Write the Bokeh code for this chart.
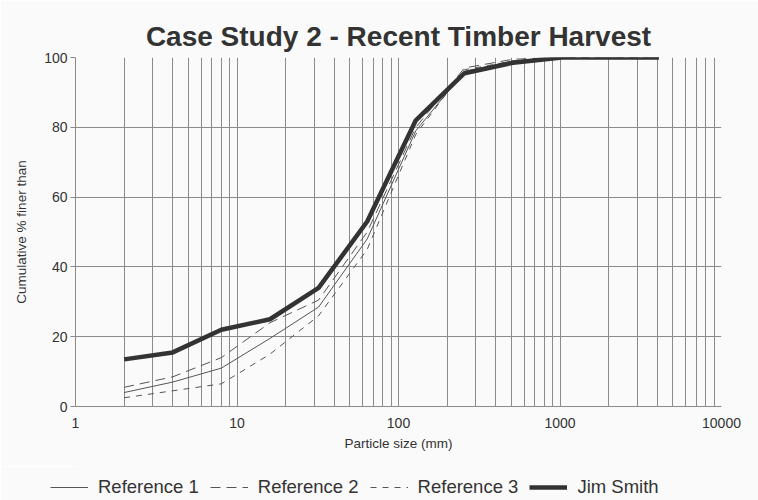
from bokeh.plotting import figure
from bokeh.models import FixedTicker, Legend, LegendItem
from bokeh.layouts import column
from bokeh.embed import file_html
from bokeh.resources import INLINE

# Particle sizes (mm)
sizes = [2, 4, 8, 16, 32, 64, 128, 256, 512, 1024, 4096]
ref1 = [4.0, 7.0, 11.0, 19.5, 28.5, 48, 79, 96, 99, 100, 100]
ref2 = [5.5, 8.5, 14.0, 24.0, 30.5, 50, 80, 97, 99.5, 100, 100]
ref3 = [2.5, 4.5, 6.5, 15.0, 26.0, 45, 78, 96.5, 99, 100, 100]
jim = [13.5, 15.5, 22.0, 25.0, 34.0, 53, 82, 95.5, 98.5, 100, 100]
series_names = ["Reference 1", "Reference 2", "Reference 3", "Jim Smith"]

major_x = [1, 10, 100, 1000, 10000]
minor_x = [m * d for d in [1, 10, 100, 1000] for m in range(2, 10)]
y_ticks = [0, 20, 40, 60, 80, 100]

FONT = "Liberation Sans"
TXT = "#333333"
GRID = "#8a8a8a"
BG = "#fafafa"

styles = [
    dict(line_color="#555555", line_width=1),
    dict(line_color="#555555", line_width=1, line_dash="10 6"),
    dict(line_color="#555555", line_width=1, line_dash="6 6"),
    dict(line_color="#333333", line_width=4.5),
]
series = [ref1, ref2, ref3, jim]

p = figure(
    x_axis_type="log", x_range=(1, 10000), y_range=(0, 100),
    output_backend="svg", toolbar_location=None,
    title="Case Study 2 - Recent Timber Harvest",
    min_border_left=75, min_border_right=37, min_border_top=57,
    min_border_bottom=60,
)
p.frame_width = 646
p.frame_height = 349
p.background_fill_color = BG
p.border_fill_color = BG
p.outline_line_color = None

p.title.align = "center"
p.title.vertical_align = "middle"
p.title.text_font = FONT
p.title.text_font_size = "28px"
p.title.text_font_style = "bold"
p.title.text_color = TXT

for ys, st in zip(series, styles):
    p.line(sizes, ys, **st)

p.xaxis.ticker = FixedTicker(ticks=major_x, minor_ticks=minor_x)
p.xaxis.major_label_overrides = {t: str(t) for t in major_x}
p.yaxis.ticker = FixedTicker(ticks=y_ticks)

p.xgrid.grid_line_color = GRID
p.xgrid.minor_grid_line_color = GRID
p.ygrid.grid_line_color = GRID

for ax in (p.xaxis, p.yaxis):
    ax.axis_line_color = GRID
    ax.major_label_text_font = FONT
    ax.major_label_text_font_size = "14px"
    ax.major_label_text_color = TXT
    ax.axis_label_text_font = FONT
    ax.axis_label_text_font_size = "13.5px"
    ax.axis_label_text_font_style = "normal"
    ax.axis_label_text_color = TXT
    ax.minor_tick_line_color = None

p.xaxis.major_tick_line_color = None
p.xaxis.major_tick_out = 0
p.xaxis.major_tick_in = 0
p.xaxis.major_label_standoff = 7
p.xaxis.axis_label_standoff = 5
p.yaxis.major_tick_line_color = GRID
p.yaxis.major_tick_in = 0
p.yaxis.major_tick_out = 5
p.yaxis.major_label_standoff = 3
p.yaxis.axis_label_standoff = 12
p.xaxis.axis_label = "Particle size (mm)"
p.yaxis.axis_label = "Cumulative % finer than"

# legend strip below the chart (series drawn outside its view, only legend shows)
lg = figure(
    width=758, height=34, output_backend="svg", toolbar_location=None,
    x_range=(0, 1), y_range=(0, 1),
    min_border=0, x_axis_location=None, y_axis_location=None,
)
lg.frame_width = 758
lg.frame_height = 34
lg.background_fill_color = BG
lg.border_fill_color = BG
lg.outline_line_color = None
lg.grid.visible = False
proxies = [lg.line(sizes, ys, **st) for ys, st in zip(series, styles)]

legend = Legend(
    items=[LegendItem(label=n, renderers=[r]) for n, r in zip(series_names, proxies)],
    orientation="horizontal",
    location=(50, 2),
    border_line_color=None,
    background_fill_alpha=0,
    label_text_font=FONT,
    label_text_font_size="18.5px",
    label_text_color=TXT,
    glyph_width=38,
    glyph_height=22,
    label_height=22,
    label_standoff=10,
    spacing=11,
    margin=0,
    padding=0,
)
lg.add_layout(legend, "center")

layout = column(p, lg, spacing=0)
open("out.html", "w").write(file_html(layout, INLINE))
